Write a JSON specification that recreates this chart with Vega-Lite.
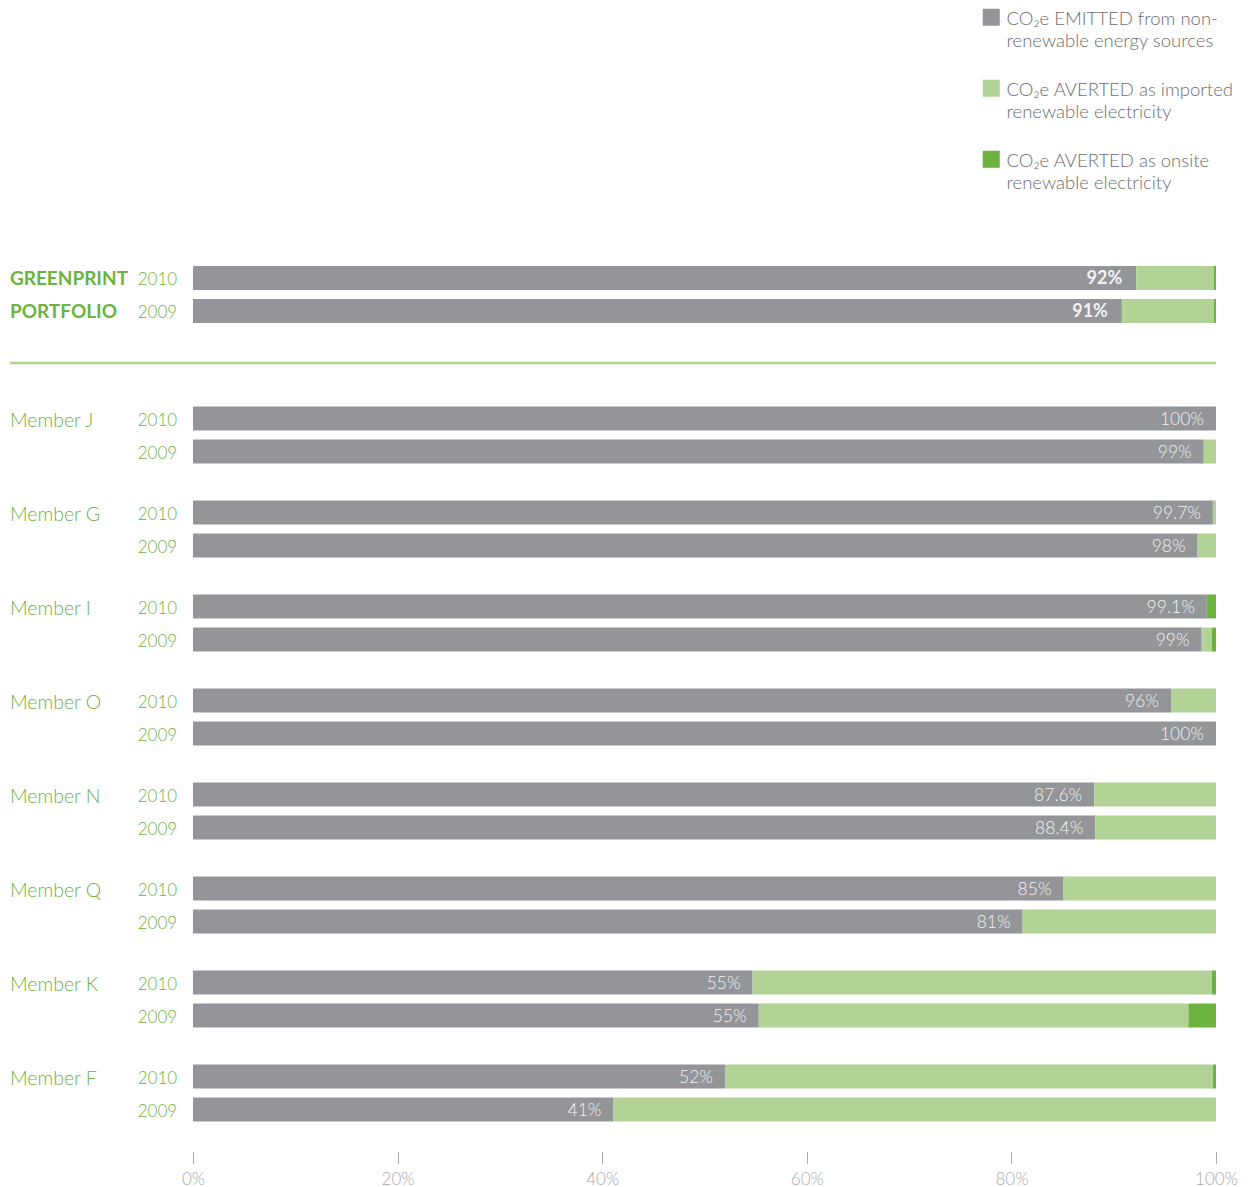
{
  "$schema": "https://vega.github.io/schema/vega-lite/v6.json",
  "padding": {"left": 8, "top": 8, "right": 5, "bottom": 0},
  "background": "white",
  "config": {"view": {"stroke": null}, "font": "Lato"},
  "datasets": {
    "bars": [
      {"group": "GREENPRINT PORTFOLIO", "year": "2010", "source": "emitted", "share": 92.2, "pct": "92%", "name": "GREENPRINT"},
      {"group": "GREENPRINT PORTFOLIO", "year": "2010", "source": "imported", "share": 7.6},
      {"group": "GREENPRINT PORTFOLIO", "year": "2010", "source": "onsite", "share": 0.2},
      {"group": "GREENPRINT PORTFOLIO", "year": "2009", "source": "emitted", "share": 90.8, "pct": "91%", "name": "PORTFOLIO"},
      {"group": "GREENPRINT PORTFOLIO", "year": "2009", "source": "imported", "share": 9.0},
      {"group": "GREENPRINT PORTFOLIO", "year": "2009", "source": "onsite", "share": 0.2},
      {"group": "Member J", "year": "2010", "source": "emitted", "share": 100, "pct": "100%", "name": "Member J"},
      {"group": "Member J", "year": "2009", "source": "emitted", "share": 98.8, "pct": "99%"},
      {"group": "Member J", "year": "2009", "source": "imported", "share": 1.2},
      {"group": "Member G", "year": "2010", "source": "emitted", "share": 99.7, "pct": "99.7%", "name": "Member G"},
      {"group": "Member G", "year": "2010", "source": "imported", "share": 0.3},
      {"group": "Member G", "year": "2009", "source": "emitted", "share": 98.2, "pct": "98%"},
      {"group": "Member G", "year": "2009", "source": "imported", "share": 1.8},
      {"group": "Member I", "year": "2010", "source": "emitted", "share": 99.1, "pct": "99.1%", "name": "Member I"},
      {"group": "Member I", "year": "2010", "source": "onsite", "share": 0.9},
      {"group": "Member I", "year": "2009", "source": "emitted", "share": 98.6, "pct": "99%"},
      {"group": "Member I", "year": "2009", "source": "imported", "share": 1.0},
      {"group": "Member I", "year": "2009", "source": "onsite", "share": 0.4},
      {"group": "Member O", "year": "2010", "source": "emitted", "share": 95.6, "pct": "96%", "name": "Member O"},
      {"group": "Member O", "year": "2010", "source": "imported", "share": 4.4},
      {"group": "Member O", "year": "2009", "source": "emitted", "share": 100, "pct": "100%"},
      {"group": "Member N", "year": "2010", "source": "emitted", "share": 88.1, "pct": "87.6%", "name": "Member N"},
      {"group": "Member N", "year": "2010", "source": "imported", "share": 11.9},
      {"group": "Member N", "year": "2009", "source": "emitted", "share": 88.2, "pct": "88.4%"},
      {"group": "Member N", "year": "2009", "source": "imported", "share": 11.8},
      {"group": "Member Q", "year": "2010", "source": "emitted", "share": 85.1, "pct": "85%", "name": "Member Q"},
      {"group": "Member Q", "year": "2010", "source": "imported", "share": 14.9},
      {"group": "Member Q", "year": "2009", "source": "emitted", "share": 81.1, "pct": "81%"},
      {"group": "Member Q", "year": "2009", "source": "imported", "share": 18.9},
      {"group": "Member K", "year": "2010", "source": "emitted", "share": 54.7, "pct": "55%", "name": "Member K"},
      {"group": "Member K", "year": "2010", "source": "imported", "share": 44.9},
      {"group": "Member K", "year": "2010", "source": "onsite", "share": 0.4},
      {"group": "Member K", "year": "2009", "source": "emitted", "share": 55.3, "pct": "55%"},
      {"group": "Member K", "year": "2009", "source": "imported", "share": 42.0},
      {"group": "Member K", "year": "2009", "source": "onsite", "share": 2.7},
      {"group": "Member F", "year": "2010", "source": "emitted", "share": 52.0, "pct": "52%", "name": "Member F"},
      {"group": "Member F", "year": "2010", "source": "imported", "share": 47.7},
      {"group": "Member F", "year": "2010", "source": "onsite", "share": 0.3},
      {"group": "Member F", "year": "2009", "source": "emitted", "share": 41.1, "pct": "41%"},
      {"group": "Member F", "year": "2009", "source": "imported", "share": 58.9}
    ],
    "sep": [{"line": "separator"}]
  },
  "spacing": 23,
  "resolve": {"scale": {"x": "independent", "color": "shared"}, "legend": {"color": "shared"}},
  "vconcat": [
    {
      "width": 1023,
      "height": 137,
      "resolve": {"scale": {"y": "independent"}},
      "layer": [
        {
          "data": {"name": "bars"},
          "transform": [{"filter": "datum.group == 'GREENPRINT PORTFOLIO'"}],
          "mark": {"type": "bar"},
          "encoding": {
            "y": {"field": "group", "type": "nominal", "axis": null, "scale": {"paddingInner": 0, "paddingOuter": 0.2287}},
            "yOffset": {"field": "year", "type": "nominal", "sort": ["2010", "2009"], "scale": {"paddingInner": 0.2727, "paddingOuter": 0.5606}},
            "x": {"field": "share", "type": "quantitative", "stack": "zero", "axis": null, "scale": {"domain": [0, 100], "nice": false}},
            "order": {"field": "source", "sort": "ascending"},
            "color": {
              "field": "source", "type": "nominal",
              "scale": {"domain": ["emitted", "imported", "onsite"], "range": ["#939598", "#b2d296", "#6db33f"]},
              "legend": {
                "orient": "none", "legendX": 789, "legendY": -218, "title": null, "direction": "vertical",
                "symbolType": "square", "symbolSize": 289, "symbolStrokeWidth": 0,
                "labelFontSize": 18.5, "labelColor": "#6d6e71", "labelFont": "Lato", "labelFontWeight": 300,
                "labelOffset": 6, "labelLimit": 400, "rowPadding": 28, "labelBaseline": "top",
                "labelExpr": "datum.value == 'emitted' ? ['CO₂e EMITTED from non-', 'renewable energy sources'] : datum.value == 'imported' ? ['CO₂e AVERTED as imported', 'renewable electricity'] : ['CO₂e AVERTED as onsite', 'renewable electricity']",
                "encode": {"labels": {"update": {"lineHeight": {"value": 22}, "dy": {"value": -7}}}}
              }
            }
          }
        },
        {
          "data": {"name": "bars"},
          "transform": [{"filter": "datum.group == 'GREENPRINT PORTFOLIO' && datum.source == 'emitted'"}],
          "mark": {"type": "text", "align": "right", "baseline": "middle", "dx": -14, "dy": 1, "fontSize": 18, "fontWeight": "bold", "color": "#f2f2f2", "font": "Lato"},
          "encoding": {
            "y": {"field": "group", "type": "nominal", "axis": null, "scale": {"paddingInner": 0, "paddingOuter": 0.2287}},
            "yOffset": {"field": "year", "type": "nominal", "sort": ["2010", "2009"], "scale": {"paddingInner": 0.2727, "paddingOuter": 0.5606}},
            "x": {"field": "share", "type": "quantitative", "axis": null, "scale": {"domain": [0, 100], "nice": false}},
            "text": {"field": "pct"}
          }
        },
        {
          "data": {"name": "bars"},
          "transform": [{"filter": "datum.group == 'GREENPRINT PORTFOLIO' && datum.source == 'emitted'"}],
          "mark": {"type": "text", "align": "left", "baseline": "middle", "dy": 1, "fontSize": 19, "fontWeight": "bold", "color": "#6db33f", "font": "Lato"},
          "encoding": {
            "y": {"field": "group", "type": "nominal", "axis": null, "scale": {"paddingInner": 0, "paddingOuter": 0.2287}},
            "yOffset": {"field": "year", "type": "nominal", "sort": ["2010", "2009"], "scale": {"paddingInner": 0.2727, "paddingOuter": 0.5606}},
            "x": {"datum": -17.9, "type": "quantitative", "axis": null, "scale": {"domain": [0, 100], "nice": false}},
            "text": {"field": "name"}
          }
        },
        {
          "data": {"name": "bars"},
          "transform": [{"filter": "datum.group == 'GREENPRINT PORTFOLIO' && datum.source == 'emitted'"}],
          "mark": {"type": "text", "align": "left", "baseline": "middle", "dy": 2, "fontSize": 17, "fontWeight": 300, "color": "#6db33f", "font": "Lato"},
          "encoding": {
            "y": {"field": "group", "type": "nominal", "axis": null, "scale": {"paddingInner": 0, "paddingOuter": 0.2287}},
            "yOffset": {"field": "year", "type": "nominal", "sort": ["2010", "2009"], "scale": {"paddingInner": 0.2727, "paddingOuter": 0.5606}},
            "x": {"datum": -5.4, "type": "quantitative", "axis": null, "scale": {"domain": [0, 100], "nice": false}},
            "text": {"field": "year"}
          }
        },
        {
          "data": {"name": "sep"},
          "mark": {"type": "rule", "color": "#a8d88c", "strokeWidth": 2.5},
          "encoding": {
            "y": {"datum": 0, "type": "quantitative", "axis": null, "scale": {"domain": [0, 1]}},
            "x": {"datum": -17.9, "type": "quantitative", "axis": null, "scale": {"domain": [0, 100], "nice": false}},
            "x2": {"datum": 100}
          }
        }
      ]
    },
    {
      "width": 1023,
      "height": 752,
      "data": {"name": "bars"},
      "transform": [{"filter": "datum.group != 'GREENPRINT PORTFOLIO'"}],
      "encoding": {
        "y": {"field": "group", "type": "nominal", "axis": null, "sort": ["Member J", "Member G", "Member I", "Member O", "Member N", "Member Q", "Member K", "Member F"], "scale": {"paddingInner": 0, "paddingOuter": 0}},
        "yOffset": {"field": "year", "type": "nominal", "sort": ["2010", "2009"], "scale": {"paddingInner": 0.2727, "paddingOuter": 0.5606}}
      },
      "layer": [
        {
          "mark": {"type": "bar"},
          "encoding": {
            "x": {
              "field": "share", "type": "quantitative", "stack": "zero",
              "scale": {"domain": [0, 100], "nice": false},
              "axis": {"values": [0, 20, 40, 60, 80, 100], "labelExpr": "datum.value + '%'", "labelFlush": false, "tickSize": 12, "offset": 11.5, "domain": false, "grid": false, "title": null, "labelFontSize": 17, "labelColor": "#a7a9ac", "tickColor": "#a7a9ac", "labelPadding": 8, "labelFont": "Lato", "labelFontWeight": 300}
            },
            "order": {"field": "source", "sort": "ascending"},
            "color": {"field": "source", "type": "nominal", "scale": {"domain": ["emitted", "imported", "onsite"], "range": ["#939598", "#b2d296", "#6db33f"]}}
          }
        },
        {
          "transform": [{"filter": "datum.source == 'emitted'"}],
          "mark": {"type": "text", "align": "right", "baseline": "middle", "dx": -12, "dy": 1, "fontSize": 17.5, "fontWeight": 300, "color": "#f2f2f2", "font": "Lato"},
          "encoding": {
            "x": {"field": "share", "type": "quantitative"},
            "text": {"field": "pct"}
          }
        },
        {
          "transform": [{"filter": "datum.source == 'emitted' && isValid(datum.name)"}],
          "mark": {"type": "text", "align": "left", "baseline": "middle", "dy": 2, "fontSize": 19.5, "fontWeight": 300, "color": "#6db33f", "font": "Lato"},
          "encoding": {
            "x": {"datum": -17.9, "type": "quantitative"},
            "text": {"field": "name"}
          }
        },
        {
          "transform": [{"filter": "datum.source == 'emitted'"}],
          "mark": {"type": "text", "align": "left", "baseline": "middle", "dy": 2, "fontSize": 17, "fontWeight": 300, "color": "#6db33f", "font": "Lato"},
          "encoding": {
            "x": {"datum": -5.4, "type": "quantitative"},
            "text": {"field": "year"}
          }
        }
      ]
    }
  ]
}
